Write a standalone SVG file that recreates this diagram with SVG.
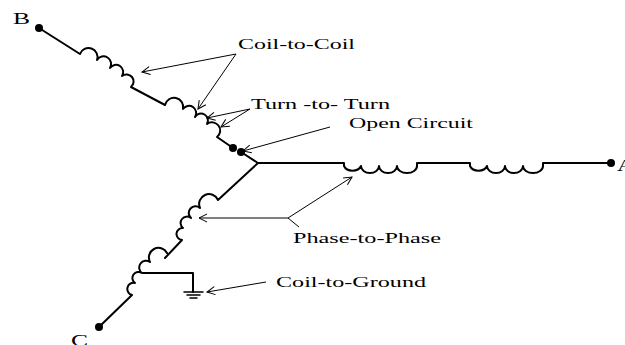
<svg xmlns="http://www.w3.org/2000/svg" width="625" height="345" viewBox="0 0 625 345">
<style>
text{font-family:"Liberation Serif","Times New Roman",serif;font-size:15.5px;fill:#000}
.w{fill:none;stroke:#000;stroke-width:2;stroke-linecap:round;stroke-linejoin:round}
.t{fill:none;stroke:#000;stroke-width:1}
.d{fill:#000}
</style>
<defs><marker id="a" markerUnits="userSpaceOnUse" markerWidth="12" markerHeight="12" refX="10" refY="6" orient="auto"><path d="M2 2 10 6 2 10" fill="none" stroke="#000" stroke-width="1"/></marker></defs>
<g id="connectors">
<path class="t" marker-end="url(#a)" d="M236 54 142 72"/>
<path class="t" marker-end="url(#a)" d="M236 54 198 109"/>
<path class="t" marker-end="url(#a)" d="M250 109 207 118"/>
<path class="t" marker-end="url(#a)" d="M250 109 221 127"/>
<path class="t" marker-end="url(#a)" d="M330 127 243 151"/>
<path class="t" marker-end="url(#a)" d="M288 218 352 177"/>
<path class="t" d="M288 218 299 227"/>
<path class="t" marker-end="url(#a)" d="M288 218 199 218"/>
<path class="t" marker-end="url(#a)" d="M266 282 207 292"/>
</g>
<g id="phase-b">
<path class="w" d="M39 28 80 54A9 9 0 0 1 97 60A1 1 0 0 1 110 68A1 1 0 0 1 122 76A1 1 0 0 1 131 87L165 105A1 1 0 0 1 183 109A1 1 0 0 1 195 117A1 1 0 0 1 207 124A1 1 0 0 1 217 137L233 148"/>
<circle class="d" cx="39" cy="28" r="4"/><circle class="d" cx="233" cy="148" r="4"/>
<text x="13" y="24" textLength="17" lengthAdjust="spacingAndGlyphs" style="font-size:16px">B</text>
</g>
<g id="neutral">
<path class="w" d="M241 152 258 163"/>
<circle class="d" cx="241" cy="152" r="4"/>
</g>
<g id="phase-a">
<path class="w" d="M258 163H344V166A9 7 0 0 0 361 166A9 7 0 0 0 379 166A9 7 0 0 0 397 166A10 7 0 0 0 417 166V163H470V166A9 7 0 0 0 487 166A9 7 0 0 0 505 166A9 7 0 0 0 523 166A10 7 0 0 0 543 166V163H611"/>
<circle class="d" cx="611" cy="163" r="4"/>
<text x="617" y="171" textLength="17" lengthAdjust="spacingAndGlyphs" style="font-size:16px">A</text>
</g>
<g id="phase-c">
<path class="w" d="M258 163 218 200A1 1 0 0 0 200 208A1 1 0 0 0 191 218A1 1 0 0 0 183 228A1 1 0 0 0 182 240L165 258M167 253A1 1 0 0 0 150 262A1 1 0 0 0 142 273A1 1 0 0 0 135 283A1 1 0 0 0 132 295L99 327"/>
<circle class="d" cx="99" cy="327" r="4"/>
<text x="71" y="346" textLength="17" lengthAdjust="spacingAndGlyphs" style="font-size:16px">C</text>
</g>
<g id="ground">
<path class="w" d="M143 273H193V292"/>
<path class="w" style="stroke-width:1.5" d="M184 292H203M187 295H200M190 298H197"/>
</g>
<g id="labels">
<text x="238" y="49" textLength="117" lengthAdjust="spacingAndGlyphs">Coil-to-Coil</text>
<text x="251" y="109" textLength="139" lengthAdjust="spacingAndGlyphs">Turn -to- Turn</text>
<text x="349" y="128" textLength="124" lengthAdjust="spacingAndGlyphs">Open Circuit</text>
<text x="293" y="243" textLength="148" lengthAdjust="spacingAndGlyphs">Phase-to-Phase</text>
<text x="276" y="287" textLength="150" lengthAdjust="spacingAndGlyphs">Coil-to-Ground</text>
</g>
</svg>
